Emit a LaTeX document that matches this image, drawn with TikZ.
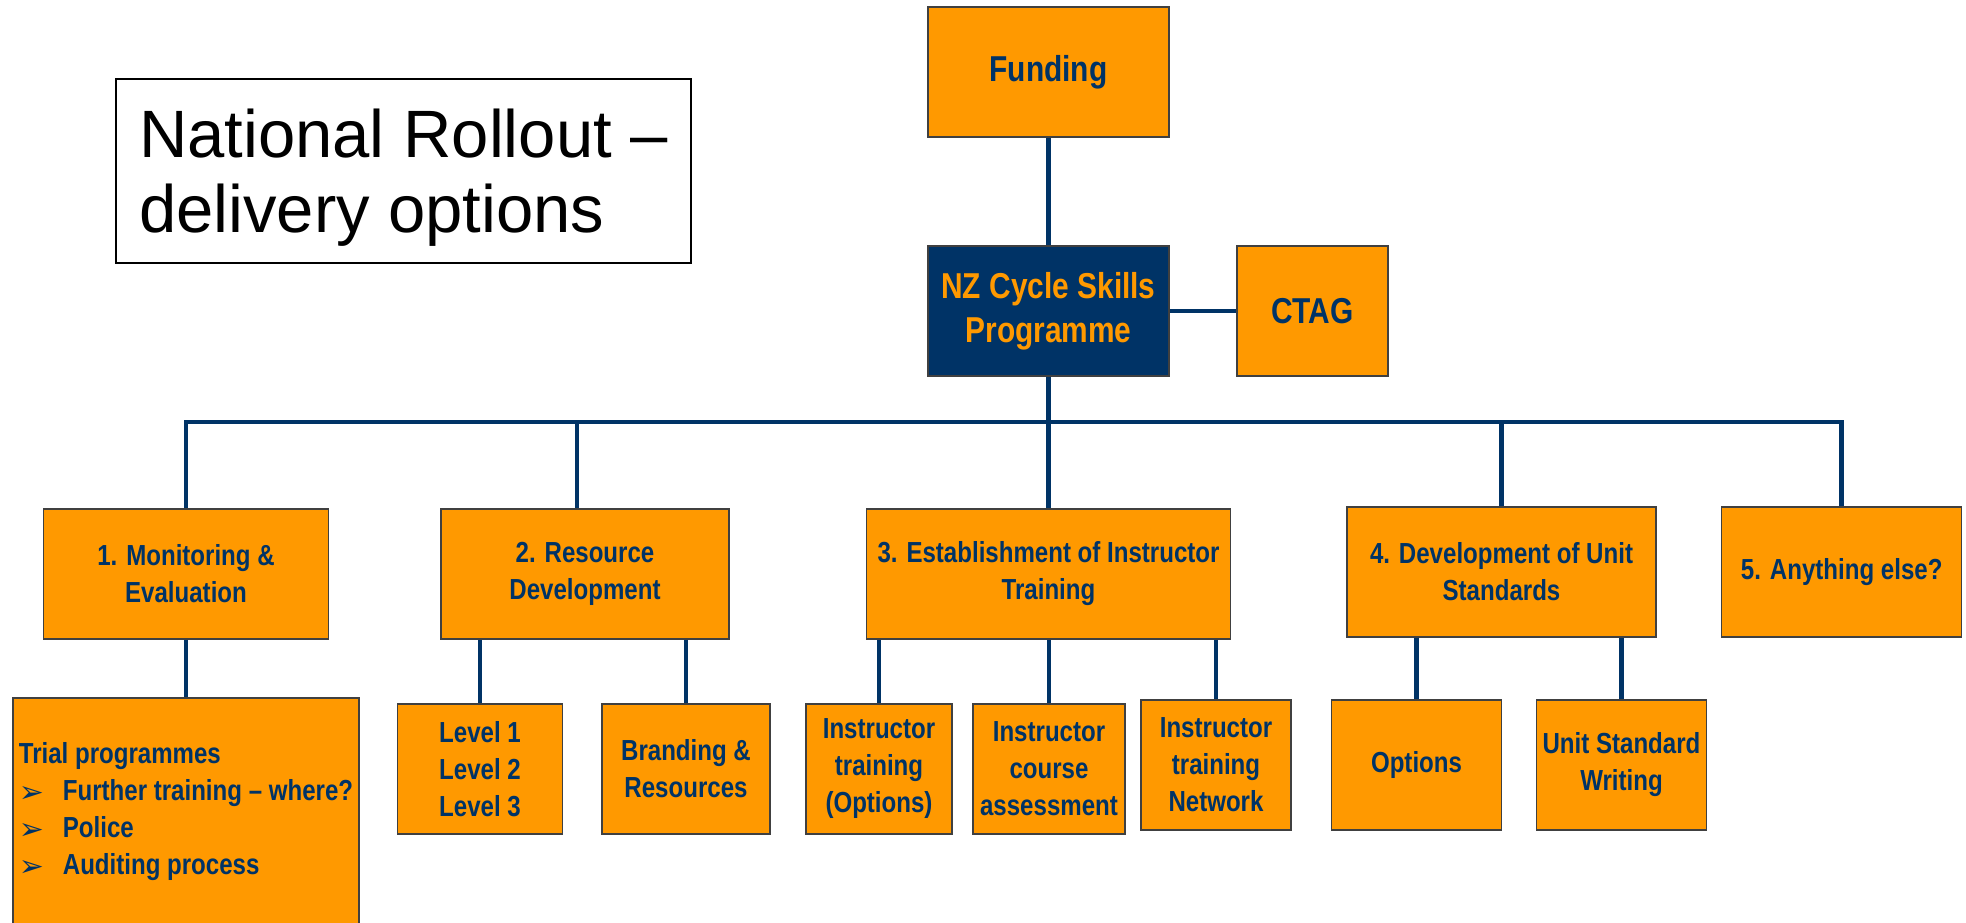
\documentclass[tikz,border=0pt]{standalone}
\usepackage{fontspec}
\setmainfont{Liberation Sans}
\newfontfamily\narrowfont[FakeStretch=0.83]{Liberation Sans}
\newfontfamily\arrowfont{DejaVu Sans}
\definecolor{navyblue}{RGB}{0,51,102}
\definecolor{boxorange}{RGB}{255,153,0}
\newcommand{\trialbullet}{\makebox[44pt][l]{\raisebox{-2pt}{\arrowfont\fontsize{30}{30}\selectfont ➢}}}
\tikzset{every picture/.style={line width=0.75pt}}
\tikzset{
  orgbox/.style={draw=black!75, line width=1.2, fill=boxorange, text=navyblue, inner sep=0, align=center, minimum height=130, font=\narrowfont\bfseries\fontsize{29}{37}\selectfont},
  topbox/.style={orgbox, font=\narrowfont\bfseries\fontsize{36}{44}\selectfont},
  link/.style={draw=navyblue, line width=4.5},
}

\begin{document}
\begin{tikzpicture}[x=1pt,y=1pt,yscale=-1,xscale=1]
\useasboundingbox (0,0) rectangle (1966,922);
\clip (0,0) rectangle (1966,922);
\fill [white] (0,0) rectangle (1966,922);

% Text Node
\node (title) [draw, line width=2, minimum width=575, minimum height=184, inner sep=0, text depth=0pt, align=left, font=\fontsize{67}{75}\selectfont] at (403.5,171) {National Rollout –\\delivery options};

%Shape: Rectangle
\node (funding) [topbox, minimum width=241] at (1048.5,72) {Funding};
\node (prog) [topbox, minimum width=241, fill=navyblue, text=boxorange] at (1048.5,311) {NZ Cycle Skills\\Programme};
\node (ctag) [topbox, minimum width=151] at (1312.5,311) {CTAG};

%Shape: Rectangle
\node (monit) [orgbox, minimum width=285] at (186,574) {1. Monitoring \&\\Evaluation};
\node (resdev) [orgbox, minimum width=288] at (585,574) {2. Resource\\Development};
\node (instr) [orgbox, minimum width=364] at (1048.5,574) {3. Establishment of Instructor\\Training};
\node (unitstd) [orgbox, minimum width=309] at (1501.5,572) {4. Development of Unit\\Standards};
\node (other) [orgbox, minimum width=240] at (1841.7,572) {5. Anything else?};

%Shape: Rectangle
\node (trial) [orgbox, minimum width=346, minimum height=228, align=left] at (186,812) {Trial programmes\\\trialbullet Further training – where?\\\trialbullet Police\\\trialbullet Auditing process};
\node (levels) [orgbox, minimum width=165] at (480,769) {Level 1\\Level 2\\Level 3};
\node (brand) [orgbox, minimum width=168] at (686,769) {Branding \&\\Resources};
\node (itopt) [orgbox, minimum width=146] at (879,769) {Instructor\\training\\(Options)};
\node (itass) [orgbox, minimum width=152] at (1049,769) {Instructor\\course\\assessment};
\node (itnet) [orgbox, minimum width=150] at (1216,765) {Instructor\\training\\Network};
\node (opts) [orgbox, minimum width=170] at (1416.5,765) {Options};
\node (uswrite) [orgbox, minimum width=170] at (1621.5,765) {Unit Standard\\Writing};

%Straight Lines
\coordinate (bus) at (1048.5,422);
\draw [link] (funding) -- (prog);
\draw [link] (prog) -- (ctag);
\draw [link] (prog) -- (bus);
\draw [link] (monit.north) |- (bus) -| (other.north);
\draw [link] ([xshift=-8]resdev.north) -- ([xshift=-8]resdev.north |- bus);
\foreach \n in {instr,unitstd}
  \draw [link] (\n.north) -- (\n.north |- bus);
\foreach \p/\c in {monit/trial,resdev/levels,resdev/brand,instr/itopt,instr/itass,instr/itnet,unitstd/opts,unitstd/uswrite}
  \draw [link] (\c.north |- \p.south) -- (\c.north);

\end{tikzpicture}
\end{document}
